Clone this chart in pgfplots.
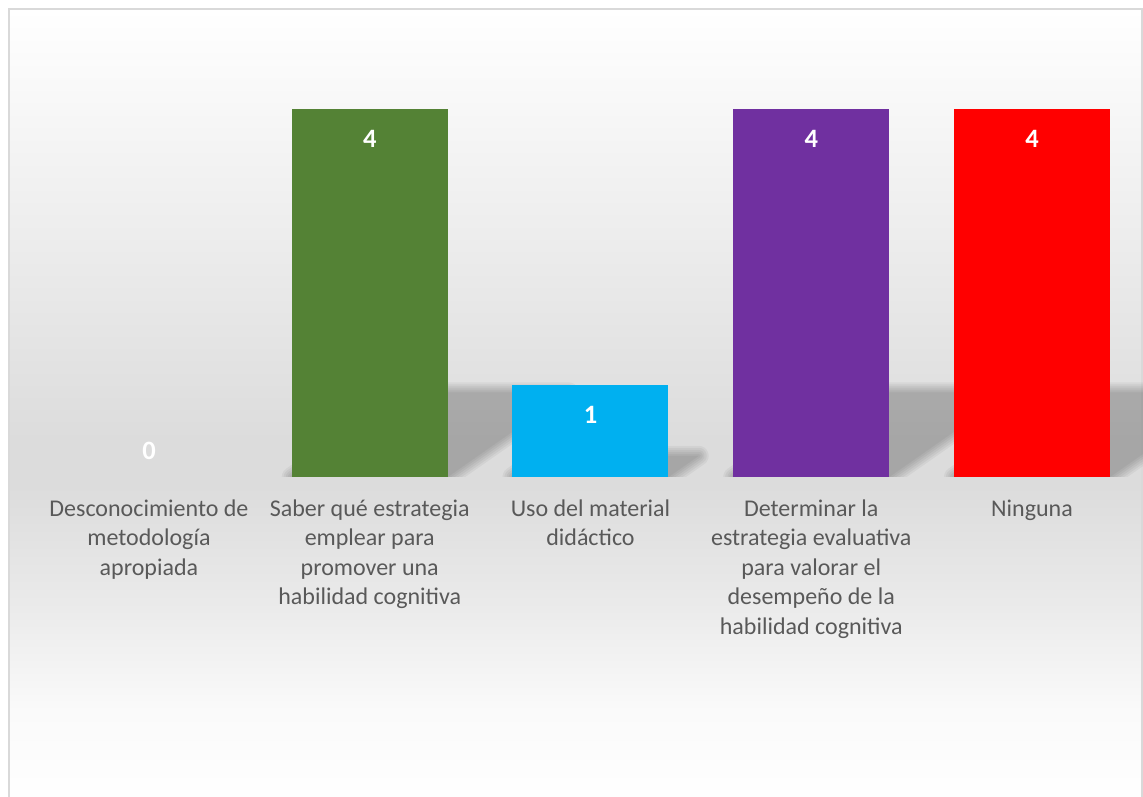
\documentclass[border=0pt]{standalone}
\usepackage{pgfplots}
\pgfplotsset{compat=1.18}
\usepackage{fontspec}
\setmainfont{Carlito}
\definecolor{cgreen}{HTML}{548235}
\definecolor{ccyan}{HTML}{00B0F0}
\definecolor{cpurple}{HTML}{7030A0}
\definecolor{cred}{HTML}{FF0000}
\definecolor{labgray}{HTML}{595959}
\definecolor{bordergray}{HTML}{D9D9D9}
\pgfdeclareverticalshading{chartbg}{100bp}{color(0bp)=(white); color(25bp)=(white); color(31bp)=(white!98!black); color(37.5bp)=(white!92!black); color(45bp)=(white!86.3!black); color(48bp)=(white!86.3!black); color(63bp)=(white!94!black); color(75bp)=(white); color(100bp)=(white)}
\newcommand{\shadowlayer}[2]{%
  \begin{scope}[transparency group, opacity=0.044]
    \path[fill=black, draw=black, line width=#1pt, line join=round] #2 -- cycle;
  \end{scope}}
\newcommand{\barshadow}[1]{%
  \shadowlayer{0.1}{#1}\shadowlayer{4}{#1}\shadowlayer{8}{#1}%
  \shadowlayer{12}{#1}\shadowlayer{16}{#1}\shadowlayer{20}{#1}}
\pgfplotsset{chartgeom/.style={
  at={(38.6pt,319pt)}, anchor=south west,
  scale only axis, width=1103.75pt, height=368pt,
  xmin=-0.5, xmax=4.5, ymin=0, ymax=4}}
\begin{document}
\begin{tikzpicture}[x=1pt,y=1pt]
\useasboundingbox (0,0) rectangle (1143,796);
\fill[white] (0,0) rectangle (1143,796);
\shade[shading=chartbg] (9,-10) rectangle (1142,787);
\draw[bordergray, line width=1.5pt] (9,-10) rectangle (1142,787);
% perspective shadows behind the bars (derived from bar values 4,1,4,4)
\begin{axis}[chartgeom, hide axis]
\barshadow{(axis cs:0.6467,0) -- (axis cs:1.3533,0) -- (axis cs:1.9013,0.92) -- (axis cs:1.1947,0.92)}
\barshadow{(axis cs:1.6467,0) -- (axis cs:2.3533,0) -- (axis cs:2.4903,0.23) -- (axis cs:1.7837,0.23)}
\barshadow{(axis cs:2.6467,0) -- (axis cs:3.3533,0) -- (axis cs:3.9013,0.92) -- (axis cs:3.1947,0.92)}
\barshadow{(axis cs:3.6467,0) -- (axis cs:4.3533,0) -- (axis cs:4.9013,0.92) -- (axis cs:4.1947,0.92)}
\end{axis}
\begin{axis}[chartgeom,
  axis line style={draw=none},
  tick style={draw=none}, major tick length=0pt,
  ytick=\empty,
  xtick={0,1,2,3,4},
  xticklabels={{Desconocimiento de\\metodología\\apropiada},
               {Saber qué estrategia\\emplear para\\promover una\\habilidad cognitiva},
               {Uso del material\\didáctico},
               {Determinar la\\estrategia evaluativa\\para valorar el\\desempeño de la\\habilidad cognitiva},
               {Ninguna}},
  xticklabel style={align=center, anchor=north, yshift=-19pt, text=labgray,
                    font=\fontsize{24}{29.5}\selectfont},
  /pgf/number format/assume math mode=true,
  every node near coord/.append style={anchor=center, text=white,
                    font=\bfseries\fontsize{26.5}{31}\selectfont},
]
\addplot[ybar, bar width=0.7067, bar shift=0pt, fill=none, draw=none,
  nodes near coords, every node near coord/.append style={yshift=26pt}] coordinates {(0,0)};
\addplot[ybar, bar width=0.7067, bar shift=0pt, fill=cgreen, draw=none,
  nodes near coords, every node near coord/.append style={yshift=-29.5pt}] coordinates {(1,4)};
\addplot[ybar, bar width=0.7067, bar shift=0pt, fill=ccyan, draw=none,
  nodes near coords, every node near coord/.append style={yshift=-29.5pt}] coordinates {(2,1)};
\addplot[ybar, bar width=0.7067, bar shift=0pt, fill=cpurple, draw=none,
  nodes near coords, every node near coord/.append style={yshift=-29.5pt}] coordinates {(3,4)};
\addplot[ybar, bar width=0.7067, bar shift=0pt, fill=cred, draw=none,
  nodes near coords, every node near coord/.append style={yshift=-29.5pt}] coordinates {(4,4)};
\end{axis}
\end{tikzpicture}
\end{document}
